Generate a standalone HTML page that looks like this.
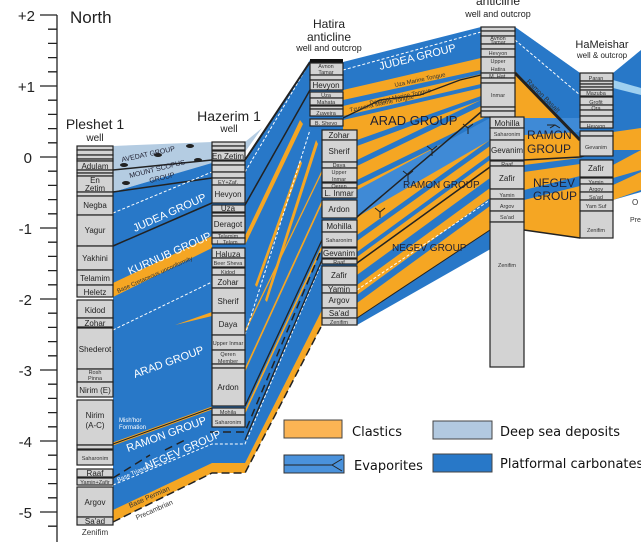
<!DOCTYPE html>
<html><head><meta charset="utf-8"><style>
html,body{margin:0;padding:0;background:#fff;}
svg{display:block;font-family:"Liberation Sans",Arial,sans-serif;}
svg text{font-family:"Liberation Sans",Arial,sans-serif;}
.c{fill:#d3d3d3;stroke:#222;stroke-width:1.2}
.t{font-size:8px;fill:#222;text-anchor:middle}
.s{font-size:5.5px;fill:#333;text-anchor:middle}
.w{fill:#fff;font-size:11px}
svg text.lg{font-family:"DejaVu Sans",sans-serif;font-size:13px;fill:#111}
.ln path{fill:none}
</style></head><body>
<svg width="641" height="542" viewBox="0 0 641 542" xmlns="http://www.w3.org/2000/svg" font-family="Liberation Sans, Arial, sans-serif">
<!-- axis -->
<g stroke="#222" stroke-width="1.3" fill="none">
<line x1="57" y1="15" x2="57" y2="542"/>
<line x1="40" y1="15" x2="57" y2="15"/><line x1="40" y1="86" x2="57" y2="86"/><line x1="40" y1="157" x2="57" y2="157"/><line x1="40" y1="228" x2="57" y2="228"/><line x1="40" y1="299" x2="57" y2="299"/><line x1="40" y1="370" x2="57" y2="370"/><line x1="40" y1="441" x2="57" y2="441"/><line x1="40" y1="512" x2="57" y2="512"/>
<path d="M48 29.2H57M48 43.4H57M48 57.6H57M48 71.8H57M48 100.2H57M48 114.4H57M48 128.6H57M48 142.8H57M48 171.2H57M48 185.4H57M48 199.6H57M48 213.8H57M48 242.2H57M48 256.4H57M48 270.6H57M48 284.8H57M48 313.2H57M48 327.4H57M48 341.6H57M48 355.8H57M48 384.2H57M48 398.4H57M48 412.6H57M48 426.8H57M48 455.2H57M48 469.4H57M48 483.6H57M48 497.8H57M48 526.2H57"/>
</g>
<g font-size="15" fill="#222" text-anchor="end">
<text x="35" y="21">+2</text><text x="35" y="92">+1</text><text x="32" y="163">0</text><text x="32" y="234">-1</text><text x="32" y="305">-2</text><text x="32" y="376">-3</text><text x="32" y="447">-4</text><text x="32" y="518">-5</text>
</g>
<text x="70" y="23" font-size="17" fill="#222">North</text>

<!-- big blue body -->
<path d="M113 192 L212 162 L245 162 L310 60 L343 62 L481 27 L515 27 L580 73 L613 73 L641 50 L641 200 L613 210 L580 238 L524 230 L357 325 L322 325 L245 473 L212 473 L113 522 Z" fill="#2878c8"/>
<!-- deep sea -->
<path d="M113 146 L212 142 L212 163 L113 192 Z" fill="#b4cce2"/>
<path d="M245 142 L262 128 L245 152 Z" fill="#b4cce2"/>
<g class="ln">
<path d="M113 170 L212 160" stroke="#222" stroke-width="1.5"/>
<path d="M113 192 L212 178" stroke="#222" stroke-width="1.5"/>
</g>
<g fill="#222"><ellipse cx="124" cy="165" rx="4" ry="2"/><ellipse cx="158" cy="155" rx="4" ry="2"/><ellipse cx="190" cy="146" rx="4" ry="2"/><ellipse cx="198" cy="160" rx="4" ry="2"/><ellipse cx="126" cy="183" rx="4" ry="2"/></g>
<text x="122" y="162" font-size="7" fill="#223" transform="rotate(-12 122 162)">AVEDAT GROUP</text>
<text x="130" y="178" font-size="7" fill="#223" transform="rotate(-14 130 178)">MOUNT SCOPUS</text>
<text x="150" y="183" font-size="7" fill="#223" transform="rotate(-14 150 183)">GROUP</text>
<!-- left orange and lines -->
<path d="M113 283 L212 236 L212 248 L113 297 Z" fill="#f5a623"/>
<path d="M245 236 L300 120 L303 124 L245 245 Z" fill="#f5a623"/>
<path d="M113 510 L212 463 L245 463 L322 310 L322 325 L245 473 L212 473 L113 522 Z" fill="#f5a623"/>
<path d="M175 325 L212 312 L212 316 Z" fill="#f5a623"/>
<g fill="#f5a623">
<path d="M245 410 L322 245 L322 249 L245 414 Z"/>
<path d="M245 368 L322 200 L322 204 L245 372 Z"/>
<path d="M245 330 L322 170 L322 173 L245 333 Z"/>
<path d="M265 300 L316 140 L318 144 L267 302 Z"/>
<path d="M255 285 L300 160 L302 163 L257 287 Z"/>
</g>
<g class="ln">
<path d="M113 246 L212 203" stroke="#222" stroke-width="1.5"/>
<path d="M245 205 L310 90" stroke="#222" stroke-width="1.5"/>
<path d="M113 213 L212 172" stroke="#fff" stroke-width="1" stroke-dasharray="3 2"/>
<path d="M245 172 L310 62" stroke="#fff" stroke-width="1" stroke-dasharray="3 2"/>
<path d="M245 160 L310 62" stroke="#222" stroke-width="2"/>
<path d="M113 444 L212 408" stroke="#f5a623" stroke-width="3"/>
<path d="M113 444 L212 408" stroke="#222" stroke-width="1"/>
<path d="M113 478 L150 455 M165 450 L185 440 M210 432 L245 432 L322 248" stroke="#222" stroke-width="1.5" stroke-dasharray="8 5"/>
<path d="M113 485 L212 444 L245 444 L322 262" stroke="#fff" stroke-width="1" stroke-dasharray="3 2"/>
<path d="M113 522 L212 473 L245 473 L322 325" stroke="#222" stroke-width="1.5" stroke-dasharray="8 4"/>
<path d="M113 330 L212 282" stroke="#fff" stroke-width="1" stroke-dasharray="3 2"/>
<path d="M245 406 L322 240" stroke="#222" stroke-width="1.3"/>
<path d="M245 440 L322 260" stroke="#222" stroke-width="1.3"/>
<path d="M245 335 L310 130" stroke="#fff" stroke-width="1" stroke-dasharray="3 2"/>
</g>

<!-- Hatira - Ramon -->
<path d="M343 90 L481 58 L490 118 L490 230 L357 318 L357 130 L343 130 Z" fill="#f5a623"/>
<g fill="#2878c8">
<path d="M343 100 L481 70 L481 74 L343 106 Z"/>
<path d="M343 116 L481 84 L481 88 L343 120 Z"/>
<path d="M357 140 L481 96 L481 100 L357 146 Z"/>
<path d="M357 160 L481 100 L481 106 L357 166 Z"/>
<path d="M357 180 L490 115 L490 120 L357 186 Z"/>
<path d="M357 190 L490 118 L490 140 L357 217 Z" fill="#3f8ad6"/>
<path d="M357 235 L490 140 L490 146 L357 241 Z"/>
<path d="M357 252 L490 155 L490 160 L357 257 Z"/>
<path d="M357 275 L490 178 L490 188 L357 285 Z"/>
<path d="M357 295 L490 198 L490 206 L357 303 Z"/>
</g>
<g class="ln">
<path d="M357 217 L481 112" stroke="#222" stroke-width="1.5"/>
<path d="M357 263 L490 167" stroke="#222" stroke-width="1.5"/>
<path d="M357 318 L490 230" stroke="#222" stroke-width="1"/>
<path d="M357 290 L490 200" stroke="#fff" stroke-width="1" stroke-dasharray="3 2"/>
<path d="M343 70 L481 32" stroke="#fff" stroke-width="1" stroke-dasharray="3 2"/>
<path d="M343 118 L380 100 L420 95 L460 80 L481 75" stroke="#222" stroke-width="1.3"/>
<g stroke="#222" stroke-width="1">
<path d="M380 212 l-5 -4 m5 4 l5 -4 m-5 4 v6"/><path d="M408 175 l-5 -4 m5 4 l5 -4 m-5 4 v6"/><path d="M432 150 l-5 -4 m5 4 l5 -4 m-5 4 v6"/><path d="M468 128 l-5 -4 m5 4 l5 -4 m-5 4 v6"/>
</g>
</g>
<text x="370" y="125" font-size="13" fill="#223">ARAD  GROUP</text>
<text x="403" y="188" font-size="10" fill="#223">RAMON  GROUP</text>
<text x="392" y="251" font-size="10" fill="#223">NEGEV  GROUP</text>
<text x="370" y="105" font-size="6" fill="#333" transform="rotate(-12 370 105)">Daragot Marine Tongue</text>
<text x="350" y="112" font-size="6" fill="#333" transform="rotate(-12 350 112)">Tzuweira Marine Tongue</text>
<text x="395" y="87" font-size="6" fill="#333" transform="rotate(-12 395 87)">Uza Marine Tongue</text>
<text x="380" y="70" class="w" transform="rotate(-14 380 70)">JUDEA  GROUP</text>

<!-- Ramon - HaMeishar -->
<path d="M515 60 L580 130 L580 238 L524 230 L524 118 L515 118 Z" fill="#f5a623"/>
<path d="M515 27 L580 73 L580 138 L515 71 Z" fill="#2878c8"/>
<path d="M524 118 L580 118 L580 132 L524 135 Z" fill="#3f8ad6"/>
<path d="M524 165 L580 158 L580 164 L524 172 Z" fill="#2878c8"/>
<path d="M524 190 L580 176 L580 186 L524 200 Z" fill="#2878c8"/>
<g class="ln">
<path d="M515 40 L580 95" stroke="#fff" stroke-width="1" stroke-dasharray="3 2"/>
<path d="M515 73 L580 140" stroke="#222" stroke-width="3"/>
<path d="M524 160 L580 157 M524 230 L580 238 M580 157 L641 140" stroke="#222" stroke-width="1.5"/>
<path d="M550 128 l5 -3 l5 3 m-5 -3 h-8" stroke="#222"/>
<path d="M613 211 L641 205" stroke="#222" stroke-width="1"/>
</g>
<text x="526" y="82" font-size="7" fill="#333" transform="rotate(45 526 82)">Ramon Basalt</text>
<text x="527" y="139" font-size="12" fill="#223">RAMON</text>
<text x="527" y="153" font-size="12" fill="#223">GROUP</text>
<text x="533" y="187" font-size="12" fill="#223">NEGEV</text>
<text x="533" y="200" font-size="12" fill="#223">GROUP</text>
<!-- right of HaMeishar -->
<path d="M613 132 L641 128 L641 150 L613 150 Z" fill="#f5a623"/>
<path d="M613 165 L641 150 L641 170 L613 178 Z" fill="#f5a623"/>
<path d="M613 185 L641 172 L641 190 L613 200 Z" fill="#f5a623"/>
<path d="M613 200 L641 192 L641 230 L613 238 Z" fill="#fff"/>
<path d="M613 80 L641 88 L641 95 L613 88 Z" fill="#9fd0f0"/>
<text x="632" y="205" font-size="8" fill="#333">O</text>
<text x="630" y="222" font-size="7" fill="#333">Pre</text>

<!-- group labels left -->
<text x="135" y="232" class="w" transform="rotate(-24 135 232)">JUDEA GROUP</text>
<text x="130" y="275" class="w" transform="rotate(-24 130 275)">KURNUB GROUP</text>
<text x="118" y="293" font-size="6" fill="#333" transform="rotate(-24 118 293)">Base Cretaceous unconformity</text>
<text x="135" y="378" class="w" transform="rotate(-20 135 378)">ARAD GROUP</text>
<text x="128" y="452" class="w" transform="rotate(-20 128 452)">RAMON GROUP</text>
<text x="147" y="470" class="w" transform="rotate(-24 147 470)">NEGEV GROUP</text>
<text x="118" y="482" font-size="6" fill="#fff" transform="rotate(-24 118 482)">Base Triassic</text>
<text x="130" y="508" font-size="7" fill="#333" transform="rotate(-24 130 508)">Base Permian</text>
<text x="137" y="520" font-size="7" fill="#333" transform="rotate(-24 137 520)">Precambrian</text>
<text x="119" y="422" font-size="6" fill="#fff">Mish'hor</text>
<text x="119" y="429" font-size="6" fill="#fff">Formation</text>

<!-- Pleshet column -->
<g>
<rect class="c" x="77" y="146" width="36" height="4"/><rect class="c" x="77" y="150" width="36" height="5"/><rect class="c" x="77" y="155" width="36" height="4"/><rect class="c" x="77" y="159" width="36" height="2"/>
<rect class="c" x="77" y="161" width="36" height="9"/><text class="t" x="95" y="169">Adulam</text>
<rect class="c" x="77" y="170" width="36" height="3"/><rect class="c" x="77" y="173" width="36" height="3"/>
<rect class="c" x="77" y="176" width="36" height="16"/><text class="t" x="95" y="183">En</text><text class="t" x="95" y="191">Zetim</text>
<rect class="c" x="77" y="192" width="36" height="4"/>
<rect class="c" x="77" y="196" width="36" height="19"/><text class="t" x="95" y="208">Negba</text>
<rect class="c" x="77" y="215" width="36" height="31"/><text class="t" x="95" y="233">Yagur</text>
<rect class="c" x="77" y="246" width="36" height="24"/><text class="t" x="95" y="261">Yakhini</text>
<rect class="c" x="77" y="270" width="36" height="15"/><text class="t" x="95" y="281">Telamim</text>
<rect class="c" x="77" y="285" width="36" height="12"/><text class="t" x="95" y="295">Heletz</text>
<rect class="c" x="77" y="300" width="36" height="18"/><text class="t" x="95" y="313">Kidod</text>
<rect class="c" x="77" y="318" width="36" height="9"/><text class="t" x="95" y="326">Zohar</text>
<rect class="c" x="77" y="328" width="36" height="41"/><text class="t" x="95" y="352">Shederot</text>
<rect class="c" x="77" y="369" width="36" height="13"/><text class="s" x="95" y="374">Rosh</text><text class="s" x="95" y="380">Pinna</text>
<rect class="c" x="77" y="382" width="36" height="15"/><text class="t" x="95" y="393">Nirim (E)</text>
<rect class="c" x="77" y="400" width="36" height="45"/><text class="t" x="95" y="418">Nirim</text><text class="t" x="95" y="428">(A-C)</text>
<rect class="c" x="77" y="445" width="36" height="4"/>
<rect class="c" x="77" y="450" width="36" height="15"/><text class="s" x="95" y="460">Saharonim</text>
<rect class="c" x="77" y="469" width="36" height="8"/><text class="t" x="95" y="476">Raaf</text>
<rect class="c" x="77" y="478" width="36" height="7"/><text class="s" x="95" y="484">Yamin+Zafir</text>
<rect class="c" x="77" y="487" width="36" height="30"/><text class="t" x="95" y="505">Argov</text>
<rect class="c" x="77" y="517" width="36" height="8"/><text class="t" x="95" y="524">Sa'ad</text>
<text x="95" y="535" font-size="8" fill="#333" text-anchor="middle">Zenifim</text>
</g>
<text x="95" y="129" font-size="14" fill="#222" text-anchor="middle">Pleshet 1</text>
<text x="95" y="141" font-size="10" fill="#222" text-anchor="middle">well</text>

<!-- Hazerim -->
<g>
<rect class="c" x="212" y="142" width="33" height="4"/><rect class="c" x="212" y="146" width="33" height="4"/>
<rect class="c" x="212" y="151" width="33" height="9"/><text class="t" x="228" y="159">En Zetim</text>
<rect class="c" x="212" y="161" width="33" height="4"/><rect class="c" x="212" y="165" width="33" height="7"/><rect class="c" x="212" y="172" width="33" height="6"/>
<rect class="c" x="212" y="178" width="33" height="7"/><text class="s" x="228" y="184">EY+Zaf.</text>
<rect class="c" x="212" y="185" width="33" height="18"/><text class="t" x="228" y="197">Hevyon</text>
<rect class="c" x="212" y="205" width="33" height="7"/><text class="t" x="228" y="211">Uza</text>
<rect class="c" x="212" y="213" width="33" height="3"/>
<rect class="c" x="212" y="216" width="33" height="16"/><text class="t" x="228" y="227">Deragot</text>
<rect class="c" x="212" y="233" width="33" height="5"/><text class="s" x="228" y="238">Telamim</text>
<rect class="c" x="212" y="238" width="33" height="6"/><text class="s" x="228" y="244">L. Telam.</text>
<rect class="c" x="212" y="248" width="33" height="10"/><text class="t" x="228" y="257">Haluza</text>
<rect class="c" x="212" y="258" width="33" height="9"/><text class="s" x="228" y="265">Beer Sheva</text>
<rect class="c" x="212" y="268" width="33" height="7"/><text class="s" x="228" y="274">Kidod</text>
<rect class="c" x="212" y="275" width="33" height="13"/><text class="t" x="228" y="285">Zohar</text>
<rect class="c" x="212" y="288" width="33" height="25"/><text class="t" x="228" y="304">Sherif</text>
<rect class="c" x="212" y="313" width="33" height="22"/><text class="t" x="228" y="327">Daya</text>
<rect class="c" x="212" y="335" width="33" height="15"/><text class="s" x="228" y="345">Upper Inmar</text>
<rect class="c" x="212" y="350" width="33" height="14"/><text class="s" x="228" y="356">Qeren</text><text class="s" x="228" y="363">Member</text>
<rect class="c" x="212" y="364" width="33" height="4"/>
<rect class="c" x="212" y="368" width="33" height="38"/><text class="t" x="228" y="390">Ardon</text>
<rect class="c" x="212" y="408" width="33" height="7"/><text class="s" x="228" y="414">Mohila</text>
<rect class="c" x="212" y="415" width="33" height="12"/><text class="s" x="228" y="424">Saharonim</text>
</g>
<text x="229" y="121" font-size="14" fill="#222" text-anchor="middle">Hazerim 1</text>
<text x="229" y="132" font-size="10" fill="#222" text-anchor="middle">well</text>

<!-- Hatira -->
<g>
<rect x="310" y="59" width="33" height="4" fill="#111"/>
<rect class="c" x="310" y="63" width="33" height="12"/><text class="s" x="326" y="68">Avnon</text><text class="s" x="326" y="74">Tamar</text>
<rect class="c" x="310" y="75" width="33" height="5"/>
<rect class="c" x="310" y="80" width="33" height="10"/><text class="t" x="326" y="88">Hevyon</text>
<rect class="c" x="310" y="92" width="33" height="6"/><text class="s" x="326" y="97">Uza</text>
<rect class="c" x="310" y="98" width="33" height="7"/><text class="s" x="326" y="104">Mahata</text>
<rect class="c" x="310" y="106" width="33" height="3"/>
<rect class="c" x="310" y="109" width="33" height="7"/><text class="s" x="326" y="115">Zuweira</text>
<rect class="c" x="310" y="119" width="33" height="7"/><text class="s" x="326" y="125">B. Shevo</text>
<rect class="c" x="322" y="130" width="35" height="10"/><text class="t" x="339" y="138">Zohar</text>
<rect class="c" x="322" y="140" width="35" height="22"/><text class="t" x="339" y="154">Sherif</text>
<rect class="c" x="322" y="162" width="35" height="6"/><text class="s" x="339" y="167" font-size="7">Daya</text>
<rect class="c" x="322" y="168" width="35" height="14"/><text class="s" x="339" y="174">Upper</text><text class="s" x="339" y="181">Inmar</text>
<rect class="c" x="322" y="183" width="35" height="5"/><text class="s" x="339" y="188">Qeren</text>
<rect class="c" x="322" y="188" width="35" height="10"/><text class="t" x="339" y="196">L. Inmar</text>
<rect class="c" x="322" y="200" width="35" height="18"/><text class="t" x="339" y="212">Ardon</text>
<rect class="c" x="322" y="220" width="35" height="12"/><text class="t" x="339" y="229">Mohilla</text>
<rect class="c" x="322" y="232" width="35" height="15"/><text class="s" x="339" y="242">Saharonim</text>
<rect class="c" x="322" y="248" width="35" height="10"/><text class="t" x="339" y="256">Gevanim</text>
<rect class="c" x="322" y="259" width="35" height="5"/><text class="s" x="339" y="264">Raaf</text>
<rect class="c" x="322" y="266" width="35" height="19"/><text class="t" x="339" y="278">Zafir</text>
<rect class="c" x="322" y="285" width="35" height="8"/><text class="t" x="339" y="292">Yamin</text>
<rect class="c" x="322" y="293" width="35" height="15"/><text class="t" x="339" y="303">Argov</text>
<rect class="c" x="322" y="308" width="35" height="10"/><text class="t" x="339" y="316">Sa'ad</text>
<rect class="c" x="322" y="318" width="35" height="7"/><text class="s" x="339" y="324">Zenifim</text>
</g>
<text x="329" y="28" font-size="12" fill="#222" text-anchor="middle">Hatira</text>
<text x="329" y="41" font-size="12" fill="#222" text-anchor="middle">anticline</text>
<text x="329" y="51" font-size="9" fill="#222" text-anchor="middle">well and outcrop</text>

<!-- Ramon -->
<g>
<rect class="c" x="481" y="27" width="34" height="4"/><rect class="c" x="481" y="31" width="34" height="5"/>
<rect class="c" x="481" y="36" width="34" height="8"/><text class="s" x="498" y="40">Avnon</text><text class="s" x="498" y="44">Tamar</text>
<rect class="c" x="481" y="44" width="34" height="5"/>
<rect class="c" x="481" y="49" width="34" height="8"/><text class="s" x="498" y="55">Hevyon</text>
<rect class="c" x="481" y="57" width="34" height="16"/><text class="s" x="498" y="63">Upper</text><text class="s" x="498" y="71">Hatira</text>
<rect class="c" x="481" y="73" width="34" height="5"/><text class="s" x="498" y="78">M. Hat.</text>
<rect class="c" x="481" y="78" width="34" height="5"/>
<rect class="c" x="481" y="83" width="34" height="24"/><text class="s" x="498" y="97">Inmar</text>
<rect class="c" x="481" y="107" width="34" height="4"/><rect class="c" x="481" y="111" width="34" height="6"/>
<rect class="c" x="490" y="117" width="34" height="11"/><text class="t" x="507" y="126">Mohilla</text>
<rect class="c" x="490" y="128" width="34" height="12"/><text class="s" x="507" y="136">Saharonim</text>
<rect class="c" x="490" y="140" width="34" height="20"/><text class="t" x="507" y="153">Gevanim</text>
<rect class="c" x="490" y="161" width="34" height="5"/><text class="s" x="507" y="166">Raaf</text>
<rect class="c" x="490" y="166" width="34" height="23"/><text class="t" x="507" y="181">Zafir</text>
<rect class="c" x="490" y="189" width="34" height="10"/><text class="s" x="507" y="197">Yamin</text>
<rect class="c" x="490" y="199" width="34" height="12"/><text class="s" x="507" y="208">Argov</text>
<rect class="c" x="490" y="211" width="34" height="11"/><text class="s" x="507" y="219">Sa'ad</text>
<rect class="c" x="490" y="222" width="34" height="145"/>
<text class="s" x="507" y="267">Zenifim</text>
</g>
<text x="498" y="5" font-size="12" fill="#222" text-anchor="middle">anticline</text>
<text x="498" y="17" font-size="9" fill="#222" text-anchor="middle">well and outcrop</text>

<!-- HaMeishar -->
<g>
<rect class="c" x="580" y="73" width="33" height="8"/><text class="s" x="596" y="80">Paran</text>
<rect class="c" x="580" y="81" width="33" height="3"/><rect class="c" x="580" y="84" width="33" height="3"/><rect class="c" x="580" y="87" width="33" height="3"/>
<rect class="c" x="580" y="90" width="33" height="6"/><text class="s" x="596" y="95">Mazuba</text>
<rect class="c" x="580" y="97" width="33" height="8"/><text class="s" x="596" y="104">Grofit</text>
<rect class="c" x="580" y="105" width="33" height="5"/><text class="s" x="596" y="110">Ora</text>
<rect class="c" x="580" y="110" width="33" height="6"/><rect class="c" x="580" y="116" width="33" height="6"/>
<rect class="c" x="580" y="122" width="33" height="6"/><text class="s" x="596" y="128">Hevyon</text>
<rect class="c" x="580" y="131" width="33" height="5"/>
<rect class="c" x="580" y="136" width="33" height="20"/><text class="s" x="596" y="149">Gevanim</text>
<rect class="c" x="580" y="160" width="33" height="17"/><text class="t" x="596" y="171">Zafir</text>
<rect class="c" x="580" y="178" width="33" height="6"/><text class="s" x="596" y="184">Yamin</text>
<rect class="c" x="580" y="184" width="33" height="8"/><text class="s" x="596" y="191">Argov</text>
<rect class="c" x="580" y="192" width="33" height="8"/><text class="s" x="596" y="199">Sa'ad</text>
<rect class="c" x="580" y="200" width="33" height="11"/><text class="s" x="596" y="208">Yam Suf</text>
<rect class="c" x="580" y="211" width="33" height="27"/><text class="s" x="596" y="232">Zenifim</text>
</g>
<text x="602" y="48" font-size="11" fill="#222" text-anchor="middle">HaMeishar</text>
<text x="602" y="58" font-size="8" fill="#222" text-anchor="middle">well &amp; outcrop</text>

<!-- legend -->
<rect x="284" y="420" width="58" height="18" fill="#fbb454" stroke="#444"/>
<text x="352" y="436" class="lg">Clastics</text>
<rect x="433" y="421" width="59" height="18" fill="#b2c9e0" stroke="#444"/>
<text x="500" y="436" class="lg">Deep sea deposits</text>
<rect x="284" y="455" width="60" height="18" fill="#4a92dc" stroke="#333"/>
<path d="M284 465 H332 L342 459 M332 465 L342 471" stroke="#222" fill="none"/>
<text x="354" y="470" class="lg">Evaporites</text>
<rect x="433" y="454" width="59" height="18" fill="#2878c8" stroke="#444"/>
<text x="500" y="468" class="lg">Platformal carbonates</text>
</svg>
</body></html>
